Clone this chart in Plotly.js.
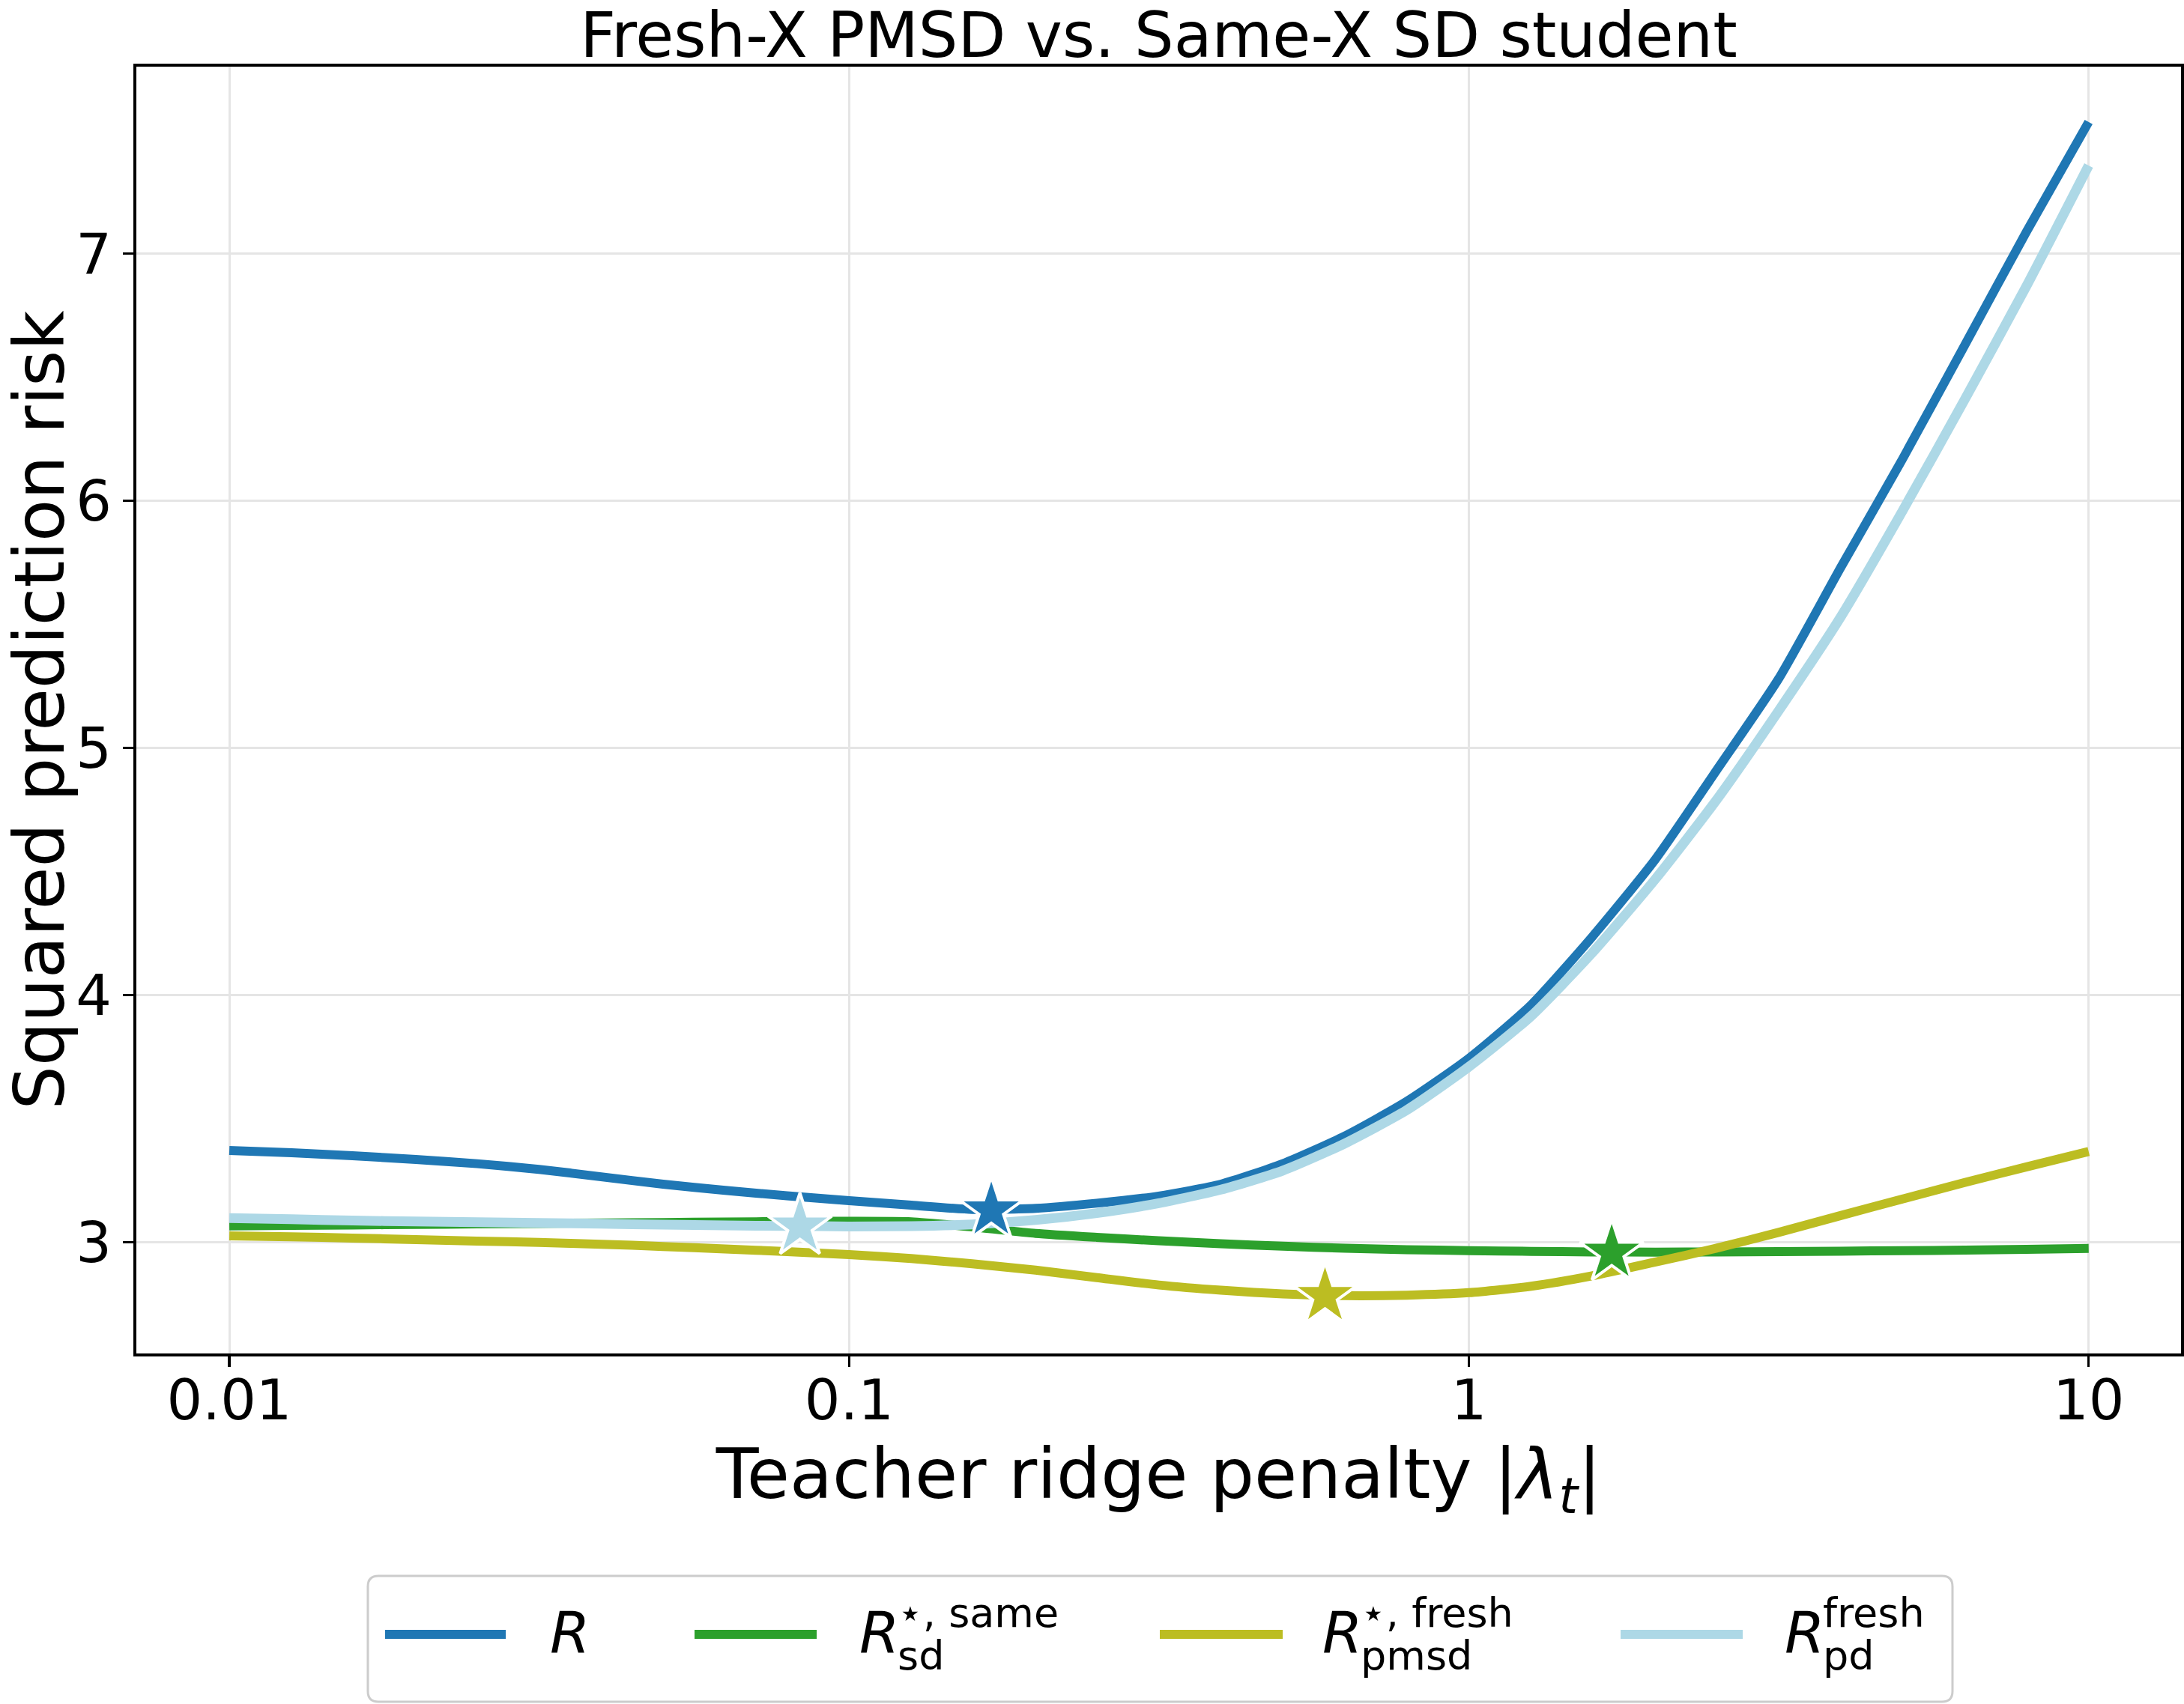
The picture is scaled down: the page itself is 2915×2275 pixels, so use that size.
<!DOCTYPE html>
<html>
<head>
<meta charset="utf-8">
<script src="https://cdn.plot.ly/plotly-3.0.1.min.js"></script>
<style>
  html, body { margin: 0; padding: 0; background: #ffffff; }
  #chart { width: 2915px; height: 2275px; }
</style>
</head>
<body>
<div id="chart"></div>
<script>
// ---------------- data ----------------
const lambdaT = [0.01, 0.0126, 0.0158, 0.02, 0.0251, 0.0316, 0.0398, 0.0501, 0.0631, 0.0794,
                 0.1, 0.126, 0.158, 0.2, 0.251, 0.316, 0.398, 0.501, 0.631, 0.794,
                 1, 1.26, 1.58, 2, 2.51, 3.16, 3.98, 5.01, 6.31, 7.94, 10];

const riskR = [3.371, 3.362, 3.350, 3.335, 3.318, 3.295, 3.265, 3.235, 3.210, 3.188,
               3.168, 3.150, 3.133, 3.137, 3.158, 3.187, 3.235, 3.318, 3.430, 3.570,
               3.744, 3.960, 4.235, 4.550, 4.910, 5.280, 5.730, 6.170, 6.630, 7.090, 7.533];

const riskSdSame = [3.066, 3.068, 3.070, 3.072, 3.074, 3.076, 3.078, 3.080, 3.082, 3.084,
                    3.085, 3.083, 3.062, 3.036, 3.020, 3.006, 2.994, 2.984, 2.976, 2.970,
                    2.966, 2.963, 2.961, 2.960, 2.961, 2.962, 2.964, 2.966, 2.968, 2.971, 2.975];

const riskPmsdFresh = [3.026, 3.022, 3.017, 3.011, 3.005, 2.999, 2.992, 2.983, 2.973, 2.962,
                       2.950, 2.934, 2.913, 2.887, 2.857, 2.827, 2.806, 2.791, 2.784, 2.786,
                       2.796, 2.822, 2.864, 2.920, 2.976, 3.040, 3.108, 3.175, 3.242, 3.305, 3.367];

const riskPdFresh = [3.098, 3.093, 3.088, 3.084, 3.081, 3.078, 3.075, 3.071, 3.068, 3.066,
                     3.064, 3.065, 3.072, 3.090, 3.118, 3.158, 3.213, 3.290, 3.400, 3.535,
                     3.710, 3.915, 4.170, 4.470, 4.790, 5.150, 5.530, 5.960, 6.410, 6.870, 7.357];

// minimisers (stars), in series order: R, sd-same, pmsd-fresh, pd-fresh
const starLambda = [0.1696, 1.70, 0.586, 0.0833];
const starRisk   = [3.129, 2.958, 2.783, 3.064];

// legend label pieces
const legendMain = ['R', 'R', 'R', 'R'];
const legendSub  = ['', 'sd', 'pmsd', 'pd'];
const legendSup  = ['', '\u22C6, same', '\u22C6, fresh', 'fresh'];

const xTickVals = [0.01, 0.1, 1, 10];
const xTickText = ['0.01', '0.1', '1', '10'];
const yTickVals = [3, 4, 5, 6, 7];
const yTickText = ['3', '4', '5', '6', '7'];

const titleText  = 'Fresh-X PMSD vs. Same-X SD student';
const xTitleText = 'Teacher ridge penalty |<i>\u03BB</i><sub><i>t</i></sub>|';
const yTitleText = 'Squared prediction risk';

// ---------------- styling ----------------
const colors = ['#1f77b4', '#2ca02c', '#bcbd22', '#add8e6'];
const lineWidths = [12, 12, 12, 13];
const FONT = 'DejaVu Sans, Verdana, sans-serif';

const W = 2915, H = 2275;
const M = { l: 182, r: 4, t: 89, b: 468 };
const plotW = W - M.l - M.r, plotH = H - M.t - M.b;
const px = x => (x - M.l) / plotW;          // pixel -> paper x
const py = y => (H - M.b - y) / plotH;      // pixel -> paper y

const seriesY = [riskR, riskSdSame, riskPmsdFresh, riskPdFresh];

const traces = [];
seriesY.forEach((ys, i) => {
  traces.push({
    type: 'scatter', mode: 'lines', x: lambdaT, y: ys,
    line: { color: colors[i], width: lineWidths[i], shape: 'spline', smoothing: 0.6 },
    showlegend: false, hoverinfo: 'skip'
  });
});
starLambda.forEach((lx, i) => {
  traces.push({
    type: 'scatter', mode: 'markers', x: [lx], y: [starRisk[i]],
    marker: { symbol: 'star', size: 64, color: colors[i], line: { color: '#ffffff', width: 4 } },
    showlegend: false, hoverinfo: 'skip'
  });
});

// ---------------- custom legend (layout only) ----------------
const legLineX0 = [514, 927, 1548, 2163];
const legLineX1 = [675, 1090, 1712, 2326];
const legLabelX = [732, 1145, 1763, 2380];
const legLineY = 2182;
const box = { x0: 491, x1: 2606, y0: 2104, y1: 2272, r: 14 };

const shapes = [];
(function () {
  const X0 = px(box.x0), X1 = px(box.x1), Y0 = py(box.y1), Y1 = py(box.y0);
  const rx = box.r / plotW, ry = box.r / plotH;
  const p = `M${X0 + rx},${Y0} L${X1 - rx},${Y0} Q${X1},${Y0} ${X1},${Y0 + ry} ` +
            `L${X1},${Y1 - ry} Q${X1},${Y1} ${X1 - rx},${Y1} L${X0 + rx},${Y1} ` +
            `Q${X0},${Y1} ${X0},${Y1 - ry} L${X0},${Y0 + ry} Q${X0},${Y0} ${X0 + rx},${Y0} Z`;
  shapes.push({ type: 'path', xref: 'paper', yref: 'paper', path: p,
                line: { color: '#cccccc', width: 3 }, fillcolor: 'rgba(255,255,255,0.8)', layer: 'above' });
})();
colors.forEach((c, i) => {
  shapes.push({ type: 'line', xref: 'paper', yref: 'paper',
                x0: px(legLineX0[i]), x1: px(legLineX1[i]), y0: py(legLineY), y1: py(legLineY),
                line: { color: c, width: 12 }, layer: 'above' });
});

const annotations = [];
legendMain.forEach((t, i) => {
  annotations.push({ xref: 'paper', yref: 'paper', x: px(legLabelX[i]), y: py(2180),
    xanchor: 'left', yanchor: 'middle', showarrow: false,
    text: '<i>' + t + '</i>', font: { family: FONT, size: 77, color: '#000' } });
  if (legendSub[i]) annotations.push({ xref: 'paper', yref: 'paper', x: px(legLabelX[i] + 51), y: py(2210),
    xanchor: 'left', yanchor: 'middle', showarrow: false,
    text: legendSub[i], font: { family: FONT, size: 54, color: '#000' } });
  if (legendSup[i]) annotations.push({ xref: 'paper', yref: 'paper', x: px(legLabelX[i] + 51), y: py(2153),
    xanchor: 'left', yanchor: 'middle', showarrow: false,
    text: legendSup[i], font: { family: FONT, size: 54, color: '#000' } });
});

const axisCommon = {
  showline: true, linecolor: '#000', linewidth: 4, mirror: true,
  ticks: 'outside', ticklen: 14, tickwidth: 3.3, tickcolor: '#000',
  showgrid: true, gridcolor: '#e5e5e5', gridwidth: 3, zeroline: false,
  tickfont: { family: FONT, size: 75, color: '#000' }
};

const layout = {
  width: W, height: H, margin: M,
  paper_bgcolor: '#fff', plot_bgcolor: '#fff',
  showlegend: false,
  font: { family: FONT, color: '#000' },
  title: { text: titleText, font: { family: FONT, size: 83, color: '#000' },
           x: 0.5, xref: 'paper', xanchor: 'center', y: 1 - 47 / H, yref: 'container', yanchor: 'middle' },
  xaxis: Object.assign({}, axisCommon, {
    type: 'log', range: [-2.15, 1.149], tickmode: 'array', tickvals: xTickVals, ticktext: xTickText,
    ticklabelstandoff: -20,
    title: { text: xTitleText, font: { family: FONT, size: 93, color: '#000' }, standoff: 24 }
  }),
  yaxis: Object.assign({}, axisCommon, {
    range: [2.55, 7.757], tickmode: 'array', tickvals: yTickVals, ticktext: yTickText,
    title: { text: yTitleText, font: { family: FONT, size: 92, color: '#000' }, standoff: 38 }
  }),
  shapes: shapes,
  annotations: annotations
};

Plotly.newPlot('chart', traces, layout, { staticPlot: true, displayModeBar: false });
</script>
</body>
</html>
